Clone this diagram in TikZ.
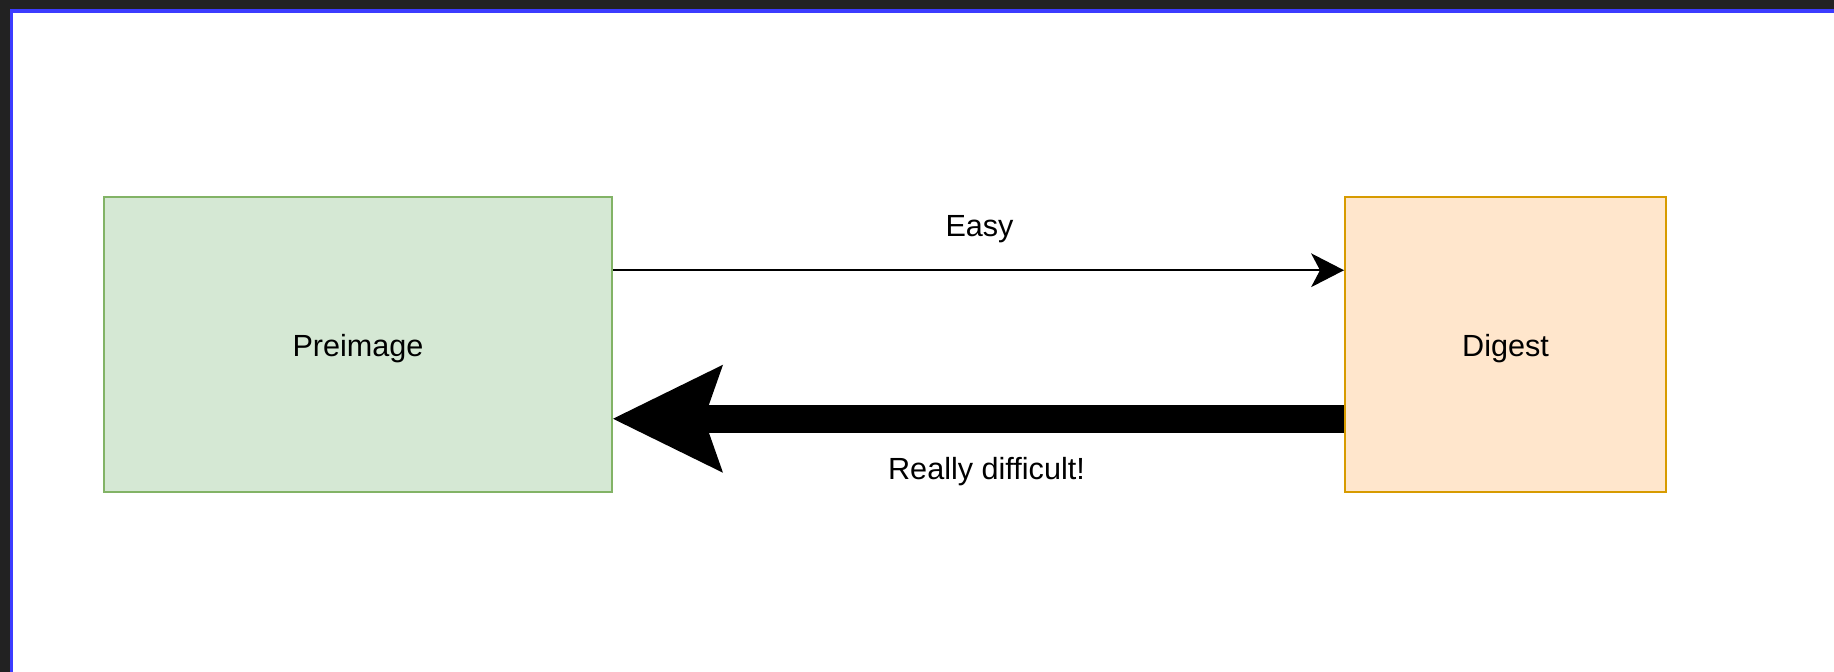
\documentclass[tikz,border=0pt]{standalone}
\usepackage{fontspec}
\setmainfont{Liberation Sans}
\usetikzlibrary{arrows.meta,calc}
\definecolor{bgdark}{HTML}{222222}
\definecolor{frameblue}{RGB}{60,60,255}
\definecolor{pfill}{HTML}{D5E8D4}
\definecolor{pdraw}{HTML}{82B366}
\definecolor{dfill}{HTML}{FFE6CC}
\definecolor{ddraw}{HTML}{D79B00}
\tikzset{
  box/.style={draw, line width=1pt, text height=12.5pt, text depth=0pt, inner sep=0pt,
    font=\fontsize{15.3}{18}\selectfont},
  lbl/.style={anchor=base, inner sep=0pt, font=\fontsize{15.3}{18}\selectfont},
  easyarrow/.style={line width=1.15pt, -{Stealth[length=16.5pt,width=17pt,inset=4.5pt,line width=0pt]}},
  hardarrow/.style={line width=14pt, -{Stealth[length=55pt,width=54pt,inset=9.5pt,line width=0pt]}}
}
\begin{document}
\begin{tikzpicture}[x=0.5pt,y=-0.5pt]
\useasboundingbox (0,0) rectangle (1834,672);
\clip (0,0) rectangle (1834,672);
\fill[bgdark] (0,0) rectangle (1834,672);
\filldraw[fill=white, draw=frameblue, line width=1.6pt] (11.5,11) rectangle (1900,740);

\node[box, fill=pfill, draw=pdraw, minimum width=254pt, minimum height=147.5pt] (p) at (358,344.5) {Preimage};
\node[box, fill=dfill, draw=ddraw, minimum width=160.5pt, minimum height=147.5pt] (d) at (1505.5,344.5) {Digest};

\draw[easyarrow] ($(p.north east)!0.25!(p.south east)$) -- ($(d.north west)!0.25!(d.south west)$);
\draw[hardarrow] ($(d.north west)!0.75!(d.south west)$) -- ($(p.north east)!0.75!(p.south east)$);

\node[lbl] (easy) at (979.5,237) {Easy};
\node[lbl] (hard) at (986.5,480) {Really difficult!};
\end{tikzpicture}
\end{document}
